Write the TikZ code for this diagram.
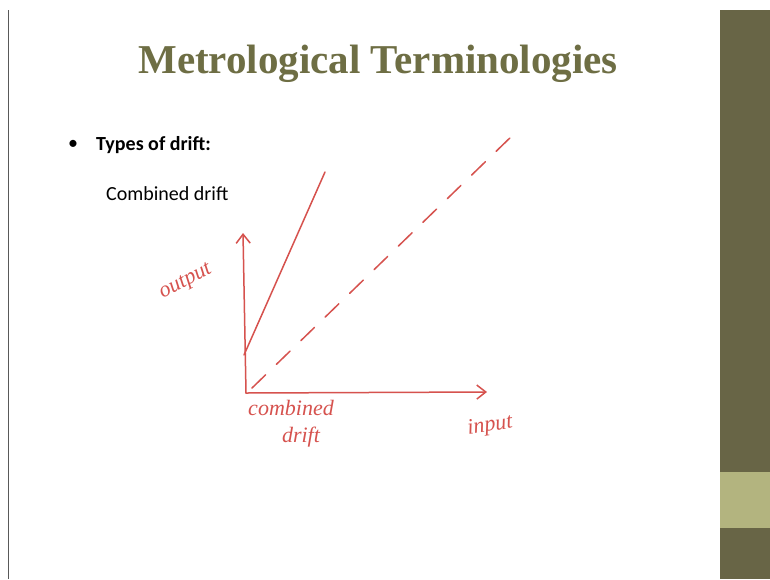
\documentclass[tikz,border=0pt]{standalone}
\usepackage{fontspec}
\setmainfont{Liberation Serif}
\newfontfamily\bodyfont{Carlito}
\usetikzlibrary{arrows.meta}
\definecolor{olivetitle}{RGB}{110,110,68}
\definecolor{olivebar}{RGB}{104,101,70}
\definecolor{olivelight}{RGB}{179,180,127}
\definecolor{inkred}{RGB}{214,82,78}
\begin{document}
\begin{tikzpicture}[x=1pt,y=-1pt,
  ink/.style={draw=inkred, line width=1.5pt, line cap=round},
  axis/.style={ink, -{Straight Barb[length=9pt,width=14pt]}},
  hand/.style={text=inkred, font=\itshape\fontsize{22}{24}\selectfont, inner sep=0pt}]
\useasboundingbox (0,0) rectangle (770,579);
\fill[white] (0,0) rectangle (770,579);
% slide frame and side bar
\draw[gray!70!black, line width=0.8pt] (8,10) -- (8,579);
\fill[olivebar] (720,10) rectangle (770,472);
\fill[olivelight] (720,472) rectangle (770,528);
\fill[olivebar] (720,528) rectangle (770,579);
% title and bullet text
\node[text=olivetitle, font=\bfseries\fontsize{41}{44}\selectfont] (title) at (378,64) {Metrological Terminologies};
\node[font=\bodyfont\fontsize{20}{22}\selectfont] (dot) at (73,145) {\textbullet};
\node[anchor=west, font=\bodyfont\bfseries\fontsize{20}{22}\selectfont, inner sep=0pt] (types) at (96,145) {Types of drift:};
\node[anchor=west, font=\bodyfont\fontsize{20}{22}\selectfont, inner sep=0pt] (combined) at (106,194) {Combined drift};
% axes
\coordinate (O) at (246,393);
\coordinate (ytop) at (243,233);
\coordinate (xend) at (487,392);
\draw[axis] (O) -- (ytop);
\draw[axis] (O) -- (xend);
% drift lines
\coordinate (s0) at (244,355);
\coordinate (s1) at (325,172);
\draw[ink] (s0) -- (s1);
\coordinate (d0) at (252,388);
\coordinate (d1) at (515,133);
\draw[ink, dash pattern=on 19pt off 15pt] (d0) -- (d1);
% labels
\node[hand, rotate=28] (outlbl) at (186,282) {output};
\node[hand] (cmblbl) at (291,408) {combined};
\node[hand] (drftlbl) at (301,437) {drift};
\node[hand, rotate=8] (inlbl) at (490,426) {input};
\end{tikzpicture}
\end{document}
